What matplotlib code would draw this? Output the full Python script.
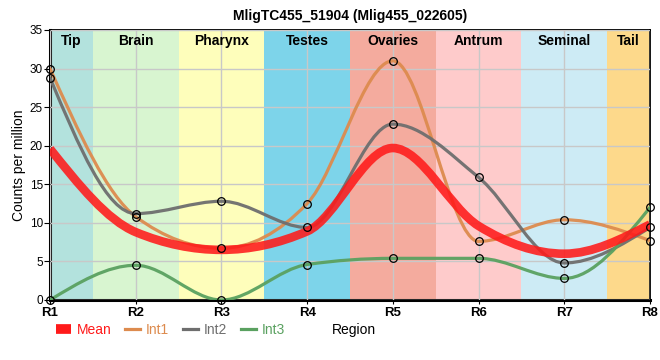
import numpy as np
import matplotlib
matplotlib.use("Agg")
from matplotlib import pyplot as plt
from matplotlib.path import Path
from matplotlib.patches import PathPatch
from matplotlib.lines import Line2D

plt.rcParams['font.family'] = ['Liberation Sans', 'DejaVu Sans']

# data
regions = ["R1", "R2", "R3", "R4", "R5", "R6", "R7", "R8"]
mean = [19.6, 8.8, 6.5, 8.9, 19.7, 9.6, 6.0, 9.8]
int1 = [30.0, 10.8, 6.7, 12.5, 31.0, 7.6, 10.4, 7.7]
int2 = [28.8, 11.2, 12.8, 9.4, 22.8, 15.9, 4.8, 9.4]
int3 = [0.0, 4.5, 0.0, 4.6, 5.4, 5.4, 2.8, 12.0]

band_names = ["Tip", "Brain", "Pharynx", "Testes", "Ovaries", "Antrum", "Seminal", "Tail"]
band_edges = [0, 0.5, 1.5, 2.5, 3.5, 4.5, 5.5, 6.5, 7]
band_colors = ["#b3e2dd", "#d8f5d0", "#fefebb", "#7dd4ea", "#f4ab9e", "#fecbcb", "#cdebf5", "#fdd98b"]

series = [("Mean", mean, "#ff1a1a"), ("Int1", int1, "#dd8b4e"),
          ("Int2", int2, "#6e6e6e"), ("Int3", int3, "#5aa160")]


def monotone_path(x, y):
    # same idea as d3 curveMonotoneX: cubic bezier segments
    x = np.asarray(x, float)
    y = np.asarray(y, float)
    n = len(x)
    h = np.diff(x)
    s = np.diff(y) / h
    t = np.zeros(n)
    for i in range(1, n - 1):
        p = (s[i-1]*h[i] + s[i]*h[i-1]) / (h[i-1] + h[i])
        t[i] = (np.sign(s[i-1]) + np.sign(s[i])) * min(abs(s[i-1]), abs(s[i]), 0.5*abs(p))
    t[0] = (3*s[0] - t[1]) / 2
    t[-1] = (3*s[-1] - t[-2]) / 2
    verts = [(x[0], y[0])]
    codes = [Path.MOVETO]
    for i in range(n - 1):
        d = h[i] / 3
        verts += [(x[i] + d, y[i] + d*t[i]), (x[i+1] - d, y[i+1] - d*t[i+1]), (x[i+1], y[i+1])]
        codes += [Path.CURVE4] * 3
    return Path(verts, codes)


fig = plt.figure(figsize=(6.6, 3.6), dpi=100)
ax = fig.add_axes([50/660, 60/360, 600/660, 270/360])

xs = np.arange(len(regions))

for i, name in enumerate(band_names):
    ax.axvspan(band_edges[i], band_edges[i+1], color=band_colors[i], lw=0, zorder=0)
    ax.text((band_edges[i] + band_edges[i+1]) / 2, 33.6, name, ha='center', va='center',
            fontsize=10, fontweight='bold', zorder=5)

ax.grid(True, color='#c8c8c8', lw=1, zorder=1)
ax.set_axisbelow(False)

for name, vals, col in series[1:]:
    ax.add_patch(PathPatch(monotone_path(xs, vals), fill=False, edgecolor=col, lw=2.3,
                           alpha=0.95, zorder=3, capstyle='round'))
name, vals, col = series[0]
ax.add_patch(PathPatch(monotone_path(xs, vals), fill=False, edgecolor=col, lw=6.2,
                       alpha=0.88, zorder=4, capstyle='butt'))

for name, vals, col in series[1:]:
    ax.plot(xs, vals, 'o', ms=5.5, mfc='none', mec='black', mew=0.9, zorder=6, clip_on=False)

ax.set_xlim(0, 7)
ax.set_ylim(0, 35)
ax.set_xticks(xs)
ax.set_xticklabels(regions, fontsize=9.5, fontweight='bold')
ax.set_yticks(np.arange(0, 36, 5))
ax.tick_params(axis='y', labelsize=8.5, length=4, pad=1)
ax.tick_params(axis='x', length=3, pad=2)
ax.set_ylabel("Counts per million", fontsize=10)
ax.yaxis.set_label_coords(-0.04, 0.5)

for side in ['left', 'bottom']:
    ax.spines[side].set_linewidth(2.2)
for side in ['top', 'right']:
    ax.spines[side].set_linewidth(1.3)

ax.set_title("MligTC455_51904 (Mlig455_022605)", fontsize=10, fontweight='bold', pad=7)

handles = [Line2D([], [], color=series[0][2], lw=7, solid_capstyle='butt')]
handles += [Line2D([], [], color=c, lw=2.3) for n, v, c in series[1:]]
leg = fig.legend(handles, [s[0] for s in series], loc='center left',
                 bbox_to_anchor=(50/660, 30/360), ncol=4, frameon=False,
                 fontsize=10, handlelength=1.1, handletextpad=0.4, columnspacing=1.0,
                 labelcolor='linecolor', borderaxespad=0)
fig.text(332/660, 30/360, "Region", fontsize=10, va='center')

plt.savefig("out.png", dpi=100)
